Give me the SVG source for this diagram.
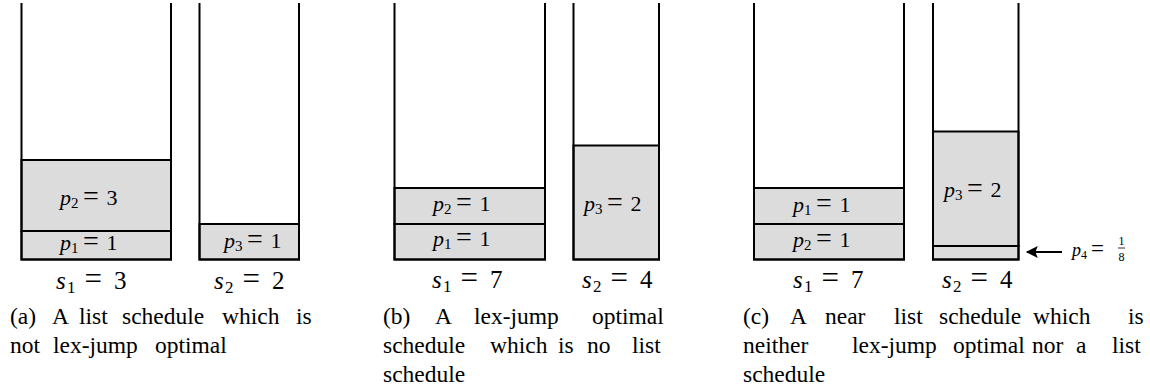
<svg xmlns="http://www.w3.org/2000/svg" width="1150" height="389" viewBox="0 0 1150 389">
<style>
.job{fill:#dcdcdc;stroke:#000;stroke-width:2}
.col{fill:none;stroke:#000;stroke-width:2}
.arr{stroke:#000;stroke-width:2;fill:none}
</style>
<defs>
<marker id="ah" viewBox="0 0 10 10" refX="9" refY="5" markerWidth="7" markerHeight="6" orient="auto" markerUnits="strokeWidth">
<path d="M0,0 L10,5 L0,10 L2,5 Z" fill="#000"/>
</marker>
</defs>

<!-- Panel (a) -->
<g id="a-m1">
<rect class="job" x="21.5" y="231" width="149.5" height="28.5"/>
<rect class="job" x="21.5" y="160" width="149.5" height="71"/>
<polyline class="col" points="21.5,3 21.5,259.5 171,259.5 171,3"/>
<text font-family="Liberation Serif, serif" font-size="22" y="205"><tspan font-style="italic" x="60">p</tspan><tspan font-size="15" x="71" y="208">2</tspan><tspan font-size="28" x="83" y="205">=</tspan><tspan x="106.5">3</tspan></text>
<text font-family="Liberation Serif, serif" font-size="22" y="250"><tspan font-style="italic" x="60">p</tspan><tspan font-size="15" x="71" y="253">1</tspan><tspan font-size="28" x="83" y="250">=</tspan><tspan x="106.5">1</tspan></text>
<text font-family="Liberation Serif, serif" font-size="25" y="289"><tspan font-style="italic" x="56">s</tspan><tspan font-size="17" x="67" y="293">1</tspan><tspan font-size="31" x="84.5" y="289">=</tspan><tspan x="114">3</tspan></text>
</g>
<g id="a-m2">
<rect class="job" x="199.5" y="224" width="99.5" height="35.5"/>
<polyline class="col" points="199.5,3 199.5,259.5 299,259.5 299,3"/>
<text font-family="Liberation Serif, serif" font-size="22" y="248"><tspan font-style="italic" x="224">p</tspan><tspan font-size="15" x="235" y="251">3</tspan><tspan font-size="28" x="247" y="248">=</tspan><tspan x="270.5">1</tspan></text>
<text font-family="Liberation Serif, serif" font-size="25" y="289"><tspan font-style="italic" x="214">s</tspan><tspan font-size="17" x="225" y="293">2</tspan><tspan font-size="31" x="242.5" y="289">=</tspan><tspan x="272">2</tspan></text>
</g>
<g id="a-cap" font-family="Liberation Serif, serif" font-size="23.5">
<text y="324"><tspan x="10">(a)</tspan><tspan x="52">A</tspan><tspan x="79">list</tspan><tspan x="122">schedule</tspan><tspan x="222">which</tspan><tspan x="296">is</tspan></text>
<text y="353"><tspan x="10">not</tspan><tspan x="53">lex-jump</tspan><tspan x="155">optimal</tspan></text>
</g>

<!-- Panel (b) -->
<g id="b-m1">
<rect class="job" x="394.5" y="224" width="150.5" height="35.5"/>
<rect class="job" x="394.5" y="188" width="150.5" height="36"/>
<polyline class="col" points="394.5,3 394.5,259.5 545,259.5 545,3"/>
<text font-family="Liberation Serif, serif" font-size="22" y="211"><tspan font-style="italic" x="433">p</tspan><tspan font-size="15" x="444" y="214">2</tspan><tspan font-size="28" x="456" y="211">=</tspan><tspan x="479.5">1</tspan></text>
<text font-family="Liberation Serif, serif" font-size="22" y="246"><tspan font-style="italic" x="433">p</tspan><tspan font-size="15" x="444" y="249">1</tspan><tspan font-size="28" x="456" y="246">=</tspan><tspan x="479.5">1</tspan></text>
<text font-family="Liberation Serif, serif" font-size="25" y="288"><tspan font-style="italic" x="432">s</tspan><tspan font-size="17" x="443" y="292">1</tspan><tspan font-size="31" x="460.5" y="288">=</tspan><tspan x="490">7</tspan></text>
</g>
<g id="b-m2">
<rect class="job" x="573.5" y="145.5" width="85.5" height="114"/>
<polyline class="col" points="573.5,3 573.5,259.5 659,259.5 659,3"/>
<text font-family="Liberation Serif, serif" font-size="22" y="211"><tspan font-style="italic" x="584">p</tspan><tspan font-size="15" x="595" y="214">3</tspan><tspan font-size="28" x="607" y="211">=</tspan><tspan x="630.5">2</tspan></text>
<text font-family="Liberation Serif, serif" font-size="25" y="288"><tspan font-style="italic" x="582">s</tspan><tspan font-size="17" x="593" y="292">2</tspan><tspan font-size="31" x="610.5" y="288">=</tspan><tspan x="640">4</tspan></text>
</g>
<g id="b-cap" font-family="Liberation Serif, serif" font-size="23.5">
<text y="324"><tspan x="383">(b)</tspan><tspan x="435">A</tspan><tspan x="474">lex-jump</tspan><tspan x="592">optimal</tspan></text>
<text y="353"><tspan x="383">schedule</tspan><tspan x="490">which</tspan><tspan x="558">is</tspan><tspan x="587">no</tspan><tspan x="632">list</tspan></text>
<text y="382"><tspan x="383">schedule</tspan></text>
</g>

<!-- Panel (c) -->
<g id="c-m1">
<rect class="job" x="754" y="224" width="150" height="35.5"/>
<rect class="job" x="754" y="188" width="150" height="36"/>
<polyline class="col" points="754,3 754,259.5 904,259.5 904,3"/>
<text font-family="Liberation Serif, serif" font-size="22" y="212"><tspan font-style="italic" x="793">p</tspan><tspan font-size="15" x="804" y="215">1</tspan><tspan font-size="28" x="816" y="212">=</tspan><tspan x="839.5">1</tspan></text>
<text font-family="Liberation Serif, serif" font-size="22" y="247"><tspan font-style="italic" x="793">p</tspan><tspan font-size="15" x="804" y="250">2</tspan><tspan font-size="28" x="816" y="247">=</tspan><tspan x="839.5">1</tspan></text>
<text font-family="Liberation Serif, serif" font-size="25" y="288"><tspan font-style="italic" x="793">s</tspan><tspan font-size="17" x="804" y="292">1</tspan><tspan font-size="31" x="821.5" y="288">=</tspan><tspan x="851">7</tspan></text>
</g>
<g id="c-m2">
<rect class="job" x="933" y="246" width="85.5" height="13.5"/>
<rect class="job" x="933" y="131.5" width="85.5" height="114.5"/>
<polyline class="col" points="933,3 933,259.5 1018.5,259.5 1018.5,3"/>
<text font-family="Liberation Serif, serif" font-size="22" y="197"><tspan font-style="italic" x="944">p</tspan><tspan font-size="15" x="955" y="200">3</tspan><tspan font-size="28" x="967" y="197">=</tspan><tspan x="990.5">2</tspan></text>
<text font-family="Liberation Serif, serif" font-size="25" y="288"><tspan font-style="italic" x="942">s</tspan><tspan font-size="17" x="953" y="292">2</tspan><tspan font-size="31" x="970.5" y="288">=</tspan><tspan x="1000">4</tspan></text>
</g>
<g id="c-p4" font-family="Liberation Serif, serif">
<text font-size="18" y="256"><tspan font-style="italic" x="1072">p</tspan><tspan font-size="12" x="1081" y="259">4</tspan><tspan font-size="23" x="1091" y="256">=</tspan></text>
<text font-size="12" x="1121.5" y="245" text-anchor="middle">1</text>
<line x1="1118" y1="248" x2="1125" y2="248" stroke="#000" stroke-width="0.8"/>
<text font-size="12" x="1121.5" y="260.5" text-anchor="middle">8</text>
</g>
<g id="c-cap" font-family="Liberation Serif, serif" font-size="23.5">
<text y="324"><tspan x="743">(c)</tspan><tspan x="790">A</tspan><tspan x="825">near</tspan><tspan x="894">list</tspan><tspan x="939">schedule</tspan><tspan x="1033">which</tspan><tspan x="1128">is</tspan></text>
<text y="353"><tspan x="743">neither</tspan><tspan x="852">lex-jump</tspan><tspan x="953">optimal</tspan><tspan x="1032">nor</tspan><tspan x="1076">a</tspan><tspan x="1112">list</tspan></text>
<text y="382"><tspan x="743">schedule</tspan></text>
</g>

<g id="connectors">
<line class="arr" x1="1062" y1="252" x2="1027" y2="252" marker-end="url(#ah)"/>
</g>
</svg>
